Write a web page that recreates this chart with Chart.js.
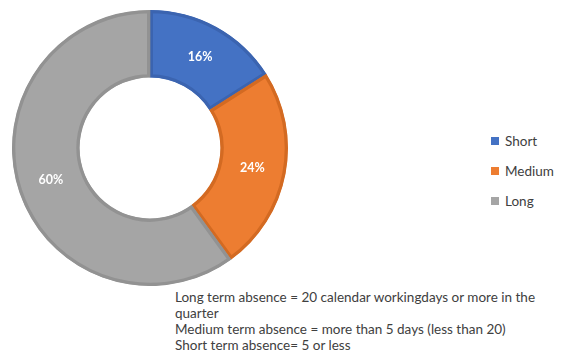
<!DOCTYPE html>
<html>
<head>
<meta charset="utf-8">
<script src="https://cdn.jsdelivr.net/npm/chart.js@4/dist/chart.umd.min.js"></script>
<style>
  html, body { margin: 0; padding: 0; background: #fff; }
  body { width: 562px; height: 363px; position: relative; overflow: hidden; font-family: Lato, "Liberation Sans", sans-serif; color: #404040; }
  #wrap { position: absolute; left: 12px; top: 10px; width: 276px; height: 276px; }
  #legend { position: absolute; left: 491px; top: 126px; font-size: 13.5px; }
  .item { height: 30px; display: flex; align-items: center; }
  .sw { width: 8px; height: 8px; margin-right: 6px; }
  #notes { position: absolute; left: 175px; top: 289px; font-size: 13.5px; line-height: 16px; width: 372px; }
</style>
</head>
<body>
<div id="wrap"><canvas id="c"></canvas></div>
<div id="legend"></div>
<div id="notes">Long term absence = 20 calendar workingdays or more in the quarter<br>Medium term absence = more than 5 days (less than 20)<br>Short term absence= 5 or less</div>
<script>
const categories = ["Short", "Medium", "Long"];
const values = [16, 24, 60];
const colors = ["#4472C4", "#ED7D31", "#A5A5A5"];
const borders = ["#3B64B0", "#D36A22", "#929292"];

const leg = document.getElementById('legend');
categories.forEach((c, i) => {
  const d = document.createElement('div');
  d.className = 'item';
  d.innerHTML = '<span class="sw" style="background:' + colors[i] + '"></span><span>' + c + '</span>';
  leg.appendChild(d);
});

const labelPlugin = {
  id: 'sliceLabels',
  afterDatasetsDraw(chart) {
    const ctx = chart.ctx;
    const meta = chart.getDatasetMeta(0);
    ctx.save();
    ctx.fillStyle = '#ffffff';
    ctx.font = 'bold 12.5px Lato, "Liberation Sans", sans-serif';
    ctx.textAlign = 'center';
    ctx.textBaseline = 'middle';
    meta.data.forEach((arc, i) => {
      const p = arc.tooltipPosition();
      ctx.fillText(values[i] + '%', p.x, p.y);
    });
    ctx.restore();
  }
};

new Chart(document.getElementById('c'), {
  type: 'doughnut',
  data: {
    labels: categories,
    datasets: [{
      data: values,
      backgroundColor: colors,
      borderColor: borders,
      borderWidth: 3,
      borderAlign: 'inner'
    }]
  },
  options: {
    responsive: true,
    maintainAspectRatio: false,
    animation: false,
    cutout: '51%',
    layout: { padding: 0 },
    plugins: { legend: { display: false }, tooltip: { enabled: false } }
  },
  plugins: [labelPlugin]
});
</script>
</body>
</html>
